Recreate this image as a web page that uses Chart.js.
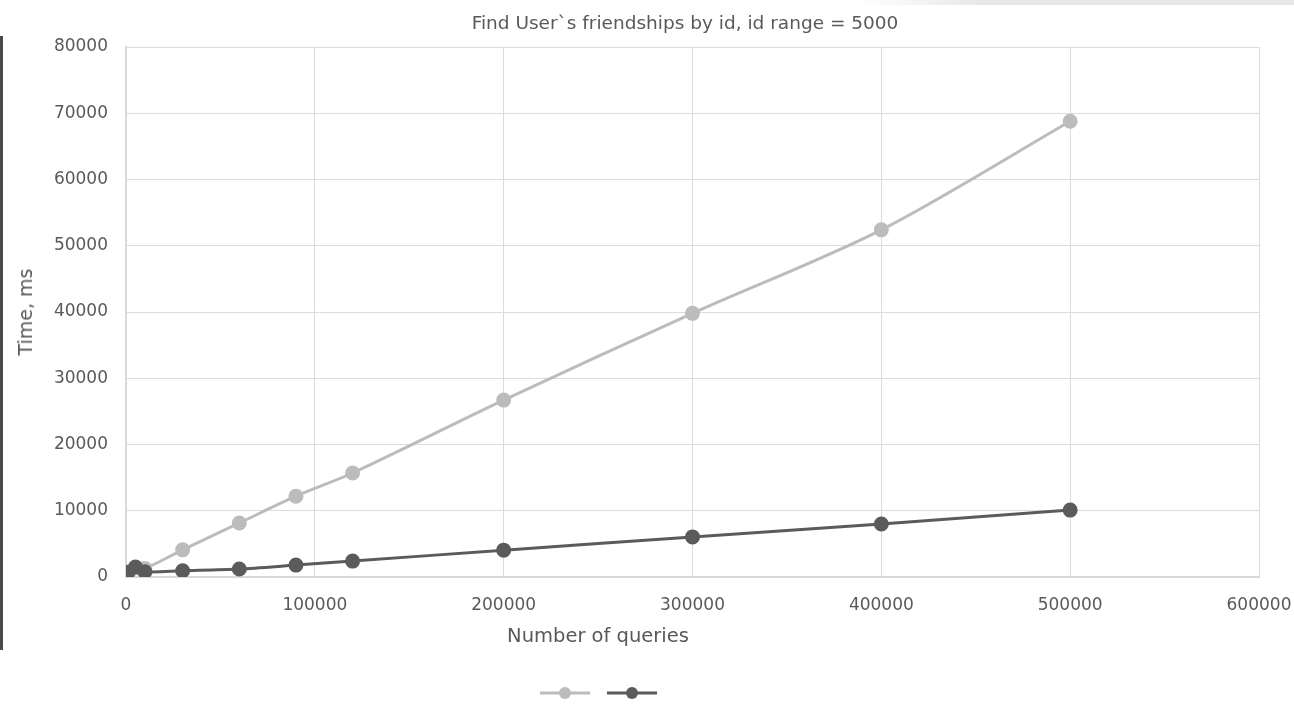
<!DOCTYPE html>
<html>
<head>
<meta charset="utf-8">
<script src="https://cdn.jsdelivr.net/npm/chart.js@4"></script>
<style>
    body { margin: 0; background: #fff; }
    #wrap { position: relative; width: 1294px; height: 704px; overflow: hidden; }
    #chart { position: absolute; left: 0; top: 0; }
    .txt { position: absolute; font-family: "DejaVu Sans", sans-serif; color: #595959; white-space: nowrap; }
    #title { left: 685px; top: 12px; transform: translateX(-50%); font-size: 18.5px; }
    #xtitle { left: 598px; top: 624px; transform: translateX(-50%); font-size: 19.5px; }
    #ytitle { left: 25px; top: 312px; transform: translate(-50%, -50%) rotate(-90deg); font-size: 19px; }
    #edge { position: absolute; left: 0; top: 36px; width: 3px; height: 614px; background: #4a4a4a; }
    #topbar { position: absolute; left: 860px; top: 0; width: 434px; height: 5px;
        background: linear-gradient(to right, rgba(230,230,230,0), #e6e6e6 30%); }
</style>
</head>
<body>
<div id="wrap">
    <canvas id="chart" width="1294" height="704"></canvas>
    <div id="title" class="txt">Find User`s friendships by id, id range = 5000</div>
    <div id="xtitle" class="txt">Number of queries</div>
    <div id="ytitle" class="txt">Time, ms</div>
    <div id="edge"></div>
    <div id="topbar"></div>
</div>
<script>
// number of queries
const queries = [10, 100, 1000, 5000, 10000, 30000, 60000, 90000, 120000, 200000, 300000, 400000, 500000];
// time in ms
const seriesLight = [100, 200, 500, 1400, 1300, 4100, 8150, 12200, 15700, 26700, 39800, 52400, 68800];
const seriesDark = [100, 300, 700, 1500, 800, 950, 1200, 1800, 2400, 4050, 6050, 8000, 10100];

const lightColor = "#bcbcbc";
const darkColor = "#5b5b5b";

function toPoints(values) {
    return queries.map((q, i) => ({ x: q, y: values[i] }));
}

// legend without text, drawn below the plot like the office chart
const legendPlugin = {
    id: "bareLegend",
    afterDraw(chart) {
        const ctx = chart.ctx;
        const y = 693;
        const items = [{ x: 540, ds: chart.data.datasets[0] }, { x: 607, ds: chart.data.datasets[1] }];
        items.forEach(item => {
            ctx.save();
            ctx.strokeStyle = item.ds.borderColor;
            ctx.lineWidth = 3;
            ctx.beginPath();
            ctx.moveTo(item.x, y);
            ctx.lineTo(item.x + 50, y);
            ctx.stroke();
            ctx.fillStyle = item.ds.pointBackgroundColor;
            ctx.beginPath();
            ctx.arc(item.x + 25, y, 6, 0, Math.PI * 2);
            ctx.fill();
            ctx.restore();
        });
    }
};

const tickFont = { family: "DejaVu Sans", size: 17 };
const plain = v => String(v);

new Chart(document.getElementById("chart").getContext("2d"), {
    type: "line",
    data: {
        datasets: [
            {
                data: toPoints(seriesLight),
                order: 2,
                borderColor: lightColor,
                backgroundColor: lightColor,
                pointBackgroundColor: lightColor,
                pointBorderColor: lightColor,
                borderWidth: 3,
                pointRadius: 6,
                tension: 0.3,
                fill: false
            },
            {
                data: toPoints(seriesDark),
                order: 1,
                borderColor: darkColor,
                backgroundColor: darkColor,
                pointBackgroundColor: darkColor,
                pointBorderColor: darkColor,
                borderWidth: 3,
                pointRadius: 6,
                tension: 0.3,
                fill: false
            }
        ]
    },
    options: {
        responsive: false,
        animation: false,
        layout: { padding: { top: 47, right: 35, bottom: 0, left: 0 } },
        plugins: {
            legend: { display: false },
            tooltip: { enabled: false }
        },
        scales: {
            x: {
                type: "linear",
                min: 0,
                max: 600000,
                afterFit(scale) { scale.height = 127; scale.paddingRight = 0; },
                ticks: { stepSize: 100000, color: "#595959", font: tickFont, padding: 18, maxRotation: 0, callback: plain },
                grid: { color: "#dcdcdc", lineWidth: 1, drawTicks: false },
                border: { color: "#d9d9d9", width: 2 }
            },
            y: {
                type: "linear",
                min: 0,
                max: 80000,
                afterFit(scale) { scale.width = 126; },
                ticks: { stepSize: 10000, color: "#595959", font: tickFont, padding: 18, callback: plain },
                grid: { color: "#dcdcdc", lineWidth: 1, drawTicks: false },
                border: { color: "#d9d9d9", width: 2 }
            }
        }
    },
    plugins: [legendPlugin]
});
</script>
</body>
</html>
